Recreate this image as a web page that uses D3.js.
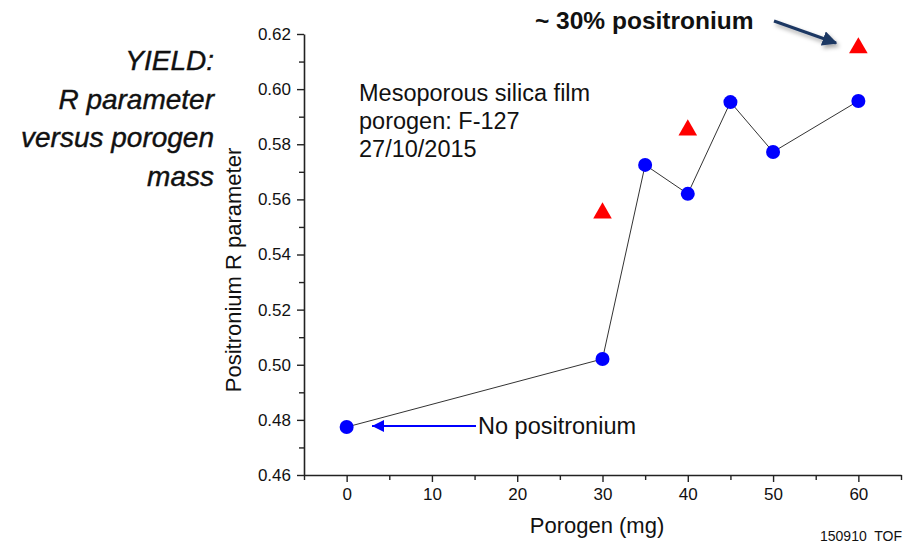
<!DOCTYPE html>
<html>
<head>
<meta charset="utf-8">
<script src="https://cdn.jsdelivr.net/npm/d3@7"></script>
<style>
  body { margin: 0; background: #fff; }
  svg { display: block; }
  text { font-family: "Liberation Sans", Arial, sans-serif; fill: #111; }
</style>
</head>
<body>
<script>
// porogen mass (mg) and measured R parameter
const porogen = [0, 30, 35, 40, 45, 50, 60]
const rParam = [0.4774, 0.5021, 0.5725, 0.5620, 0.5953, 0.5772, 0.5957]
// positronium fraction points (red triangles)
const psPorogen = [30, 40, 60]
const psValue = [0.5554, 0.5855, 0.6153]

const xTicks = [0, 10, 20, 30, 40, 50, 60]
const xMinor = [-5, 5, 15, 25, 35, 45, 55, 65]
const yTicks = [0.46, 0.48, 0.50, 0.52, 0.54, 0.56, 0.58, 0.60, 0.62]
const yMinor = [0.47, 0.49, 0.51, 0.53, 0.55, 0.57, 0.59, 0.61]

const titleLines = ['YIELD:', 'R parameter', 'versus porogen', 'mass']
const noteLines = ['Mesoporous silica film', 'porogen: F-127', '27/10/2015']

const width = 912
const height = 543

const svg = d3.select('body').append('svg')
  .attr('width', width)
  .attr('height', height)

const defs = svg.append('defs')
defs.append('marker')
  .attr('id', 'headNavy')
  .attr('viewBox', '0 0 10 10')
  .attr('refX', 9).attr('refY', 5)
  .attr('markerWidth', 5).attr('markerHeight', 5)
  .attr('orient', 'auto')
  .append('path').attr('d', 'M0,0L10,5L0,10z').attr('fill', '#1f3864')
defs.append('marker')
  .attr('id', 'headBlue')
  .attr('markerUnits', 'userSpaceOnUse')
  .attr('viewBox', '0 0 10 10')
  .attr('refX', 10).attr('refY', 5)
  .attr('markerWidth', 14).attr('markerHeight', 12)
  .attr('orient', 'auto')
  .append('path').attr('d', 'M0,0L10,5L0,10z').attr('fill', '#0000ff')
const shadow = defs.append('filter').attr('id', 'shadow')
  .attr('x', '-20%').attr('y', '-50%').attr('width', '140%').attr('height', '200%')
shadow.append('feDropShadow')
  .attr('dx', 2).attr('dy', 3).attr('stdDeviation', 2)
  .attr('flood-color', '#000').attr('flood-opacity', 0.35)

const x = d3.scaleLinear().domain([-5, 65]).range([304, 901])
const y = d3.scaleLinear().domain([0.46, 0.62]).range([475, 34])

// axes
const xAxis = svg.append('g').attr('transform', 'translate(0,' + y(0.46) + ')')
xAxis.call(d3.axisBottom(x).tickValues(xTicks).tickSize(7).tickSizeOuter(0).tickPadding(6))
xAxis.append('g').call(d3.axisBottom(x).tickValues(xMinor).tickSize(5).tickFormat(''))
  .select('.domain').remove()

const yAxis = svg.append('g').attr('transform', 'translate(' + x(-5) + ',0)')
yAxis.call(d3.axisLeft(y).tickValues(yTicks).tickSize(7).tickSizeOuter(0).tickPadding(6).tickFormat(d3.format('.2f')))
yAxis.append('g').call(d3.axisLeft(y).tickValues(yMinor).tickSize(5).tickFormat(''))
  .select('.domain').remove()

svg.selectAll('.domain').attr('stroke', '#222').attr('stroke-width', 1.6)
svg.selectAll('.tick line').attr('stroke', '#222').attr('stroke-width', 1.4)
svg.selectAll('.tick text')
  .attr('font-family', '"Liberation Sans", Arial, sans-serif')
  .attr('font-size', 17).attr('fill', '#111')

svg.append('text')
  .attr('x', 597).attr('y', 533)
  .attr('text-anchor', 'middle')
  .attr('font-size', 22)
  .text('Porogen (mg)')

svg.append('text')
  .attr('transform', 'translate(241,270) rotate(-90)')
  .attr('text-anchor', 'middle')
  .attr('font-size', 22)
  .text('Positronium R parameter')

// connecting line and markers
const pts = porogen.map((p, i) => [p, rParam[i]])
svg.append('path')
  .datum(pts)
  .attr('fill', 'none')
  .attr('stroke', '#333')
  .attr('stroke-width', 1)
  .attr('d', d3.line().x(d => x(d[0])).y(d => y(d[1])))

svg.append('g').selectAll('circle')
  .data(pts)
  .join('circle')
  .attr('cx', d => x(d[0]))
  .attr('cy', d => y(d[1]))
  .attr('r', 7)
  .attr('fill', '#0000ff')

const tri = d3.symbol().type(d3.symbolTriangle).size(150)
svg.append('g').selectAll('path')
  .data(psPorogen.map((p, i) => [p, psValue[i]]))
  .join('path')
  .attr('transform', d => 'translate(' + x(d[0]) + ',' + (y(d[1]) + 1) + ')')
  .attr('d', tri)
  .attr('fill', '#ff0000')

// title on the left
svg.append('g').selectAll('text')
  .data(titleLines)
  .join('text')
  .attr('x', 214)
  .attr('y', (d, i) => 70 + i * 38.5)
  .attr('text-anchor', 'end')
  .attr('font-family', 'Lato, "Open Sans", sans-serif')
  .attr('font-style', 'italic')
  .attr('font-size', 28)
  .attr('stroke', '#111')
  .attr('stroke-width', 0.4)
  .text(d => d)

// sample note
svg.append('g').selectAll('text')
  .data(noteLines)
  .join('text')
  .attr('x', 359)
  .attr('y', (d, i) => 101 + i * 28)
  .attr('font-size', 23.5)
  .text(d => d)

// ~30% positronium callout
svg.append('text')
  .attr('x', 535).attr('y', 29)
  .attr('font-family', 'Lato, "Open Sans", sans-serif')
  .attr('font-weight', 'bold')
  .attr('font-size', 24.5)
  .text('~ 30% positronium')

svg.append('line')
  .attr('x1', 774).attr('y1', 21)
  .attr('x2', 836).attr('y2', 43)
  .attr('stroke', '#1f3864')
  .attr('stroke-width', 3)
  .attr('marker-end', 'url(#headNavy)')
  .attr('filter', 'url(#shadow)')

// no positronium callout
svg.append('line')
  .attr('x1', 476).attr('y1', 426)
  .attr('x2', 372).attr('y2', 426)
  .attr('stroke', '#0000ff')
  .attr('stroke-width', 2)
  .attr('marker-end', 'url(#headBlue)')

svg.append('text')
  .attr('x', 478).attr('y', 434)
  .attr('font-size', 23.5)
  .text('No positronium')

svg.append('text')
  .attr('x', 902).attr('y', 541)
  .attr('text-anchor', 'end')
  .attr('font-size', 14)
  .attr('xml:space', 'preserve')
  .text('150910  TOF')
</script>
</body>
</html>
